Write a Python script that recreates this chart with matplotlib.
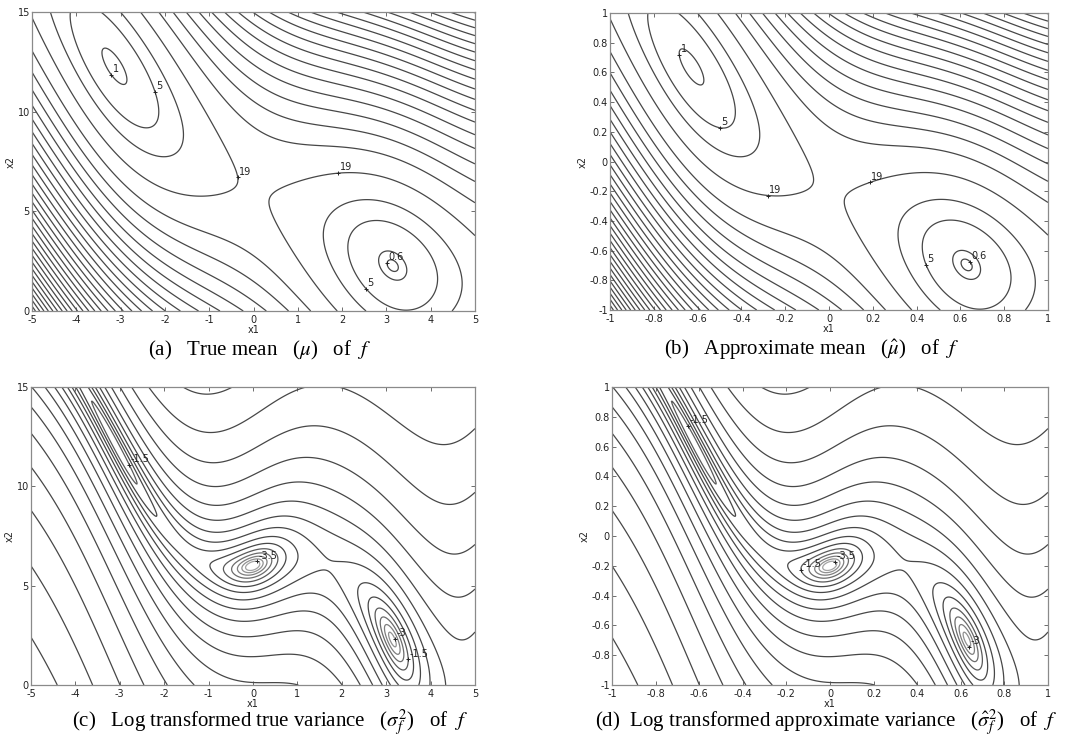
import numpy as np
import matplotlib.pyplot as plt

# Branin test function, inputs perturbed by gaussian noise
BRANIN_B = 5.1 / (4 * np.pi ** 2)
BRANIN_C = 5 / np.pi
BRANIN_R = 6.0
BRANIN_S = 10.0
BRANIN_T = 1 / (8 * np.pi)
NOISE_SD = 0.158
MEAN_NOISE_SD = 0.14

X1_RANGE = (-5, 5)
X2_RANGE = (0, 15)

# contour levels
MEAN_LEVELS = [0.6, 1, 5, 10, 19, 30, 40, 50, 60, 70, 80, 90, 100, 110, 120,
               130, 140, 150, 160, 170, 180, 190, 200, 210, 220, 230, 240,
               250, 260, 270, 280, 290, 300, 310]
VAR_LEVELS = [-3.5, -3, -2.5, -2, -1.5, -1, -0.5, 0, 0.5, 1, 1.5, 2, 2.5,
              3, 3.5, 4, 4.5, 5, 5.5, 6, 6.5]

# labelled contours: (level, approximate x1, x2 in original units)
MEAN_LABELS = [(1, -3.15, 11.85), (5, -2.2, 11.0), (19, -0.3, 6.7),
               (19, 1.9, 7.0), (0.6, 3.1, 2.4), (5, 2.5, 1.1)]
MEAN_LABELS_B = [(1, -3.35, 12.9), (5, -2.5, 9.2), (19, -1.4, 5.8),
                 (19, 0.95, 6.4), (5, 2.2, 2.3), (0.6, 3.3, 2.5)]
VAR_LABELS = [(-1.5, -2.8, 11.1), (-3.5, 0.15, 6.4), (-3, 3.15, 2.3),
              (-1.5, 3.45, 1.3)]
VAR_LABELS_D = [(-1.5, -3.15, 13.1), (-1.5, -0.7, 5.8), (-3.5, 0.1, 6.2),
                (-3, 3.15, 1.8)]

X1_TICKS_A = [-5, -4, -3, -2, -1, 0, 1, 2, 3, 4, 5]
X2_TICKS_A = [0, 5, 10, 15]
TICKS_B = [-1, -0.8, -0.6, -0.4, -0.2, 0, 0.2, 0.4, 0.6, 0.8, 1]

CAPTIONS = ['(a)   True mean   ($\\mu$)   of  $f$',
            '(b)   Approximate mean   ($\\hat{\\mu}$)   of  $f$',
            '(c)   Log transformed true variance   ($\\sigma_f^2$)   of  $f$',
            '(d)  Log transformed approximate variance   ($\\hat{\\sigma}_f^2$)   of  $f$']

LINE_COLOR = '#474747'


def branin_parts(x1, x2):
    g = x2 - BRANIN_B * x1 ** 2 + BRANIN_C * x1 - BRANIN_R
    dg = -2 * BRANIN_B * x1 + BRANIN_C
    amp = BRANIN_S * (1 - BRANIN_T)
    f = g ** 2 + amp * np.cos(x1) + BRANIN_S
    f1 = 2 * g * dg - amp * np.sin(x1)
    f2 = 2 * g
    f11 = 2 * dg ** 2 - 4 * BRANIN_B * g - amp * np.cos(x1)
    f12 = 2 * dg
    f22 = 2.0 * np.ones_like(x1)
    return f, f1, f2, f11, f12, f22


def to_unit(x1, x2):
    return x1 / 5.0, x2 / 7.5 - 1.0


def style_axes(ax, xticks, yticks):
    ax.set_xticks(xticks)
    ax.set_yticks(yticks)
    ax.set_xticklabels([('%g' % t) for t in xticks])
    ax.set_yticklabels([('%g' % t) for t in yticks])
    ax.tick_params(direction='in', top=True, right=True, labelsize=7,
                   length=3, width=0.6, colors='#555555', pad=1.5,
                   labelcolor='#222222')
    ax.tick_params(axis='x', pad=3)
    for sp in ax.spines.values():
        sp.set_color('#8a8a8a')
        sp.set_linewidth(0.9)
    ax.set_xlabel('x1', fontsize=7, labelpad=0, color='#222222')
    ax.set_ylabel('x2', fontsize=7, labelpad=1, color='#222222')


def put_labels(ax, cs, labels, unit):
    for level, px, py in labels:
        if unit:
            px, py = to_unit(px, py)
        idx = list(cs.levels).index(level)
        segs = [s for s in cs.allsegs[idx] if len(s)]
        if not segs:
            continue
        pts = np.vstack(segs)
        k = np.argmin((pts[:, 0] - px) ** 2 + (pts[:, 1] - py) ** 2)
        x, y = pts[k]
        ax.plot(x, y, '+', color='#222222', ms=3, mew=0.7)
        ax.annotate('%g' % level, (x, y), xytext=(1, 0.5),
                    textcoords='offset points', fontsize=7, ha='left',
                    va='bottom', color='#222222')


def main():
    x1 = np.linspace(X1_RANGE[0], X1_RANGE[1], 500)
    x2 = np.linspace(X2_RANGE[0], X2_RANGE[1], 500)
    X1, X2 = np.meshgrid(x1, x2)
    f, f1, f2, f11, f12, f22 = branin_parts(X1, X2)
    s2 = NOISE_SD ** 2
    mean = f + MEAN_NOISE_SD ** 2 / 2 * (f11 + f22)
    var = s2 * (f1 ** 2 + f2 ** 2) + s2 ** 2 / 2 * (f11 ** 2 + 2 * f12 ** 2 + f22 ** 2)
    logvar = np.log(var)
    U, V = to_unit(X1, X2)

    fig = plt.figure(figsize=(10.91, 7.46), dpi=100)
    W, H = 1091.0, 746.0
    boxes = [(32, 12, 443, 299), (610, 13, 438, 297),
             (31, 387, 444, 298), (612, 387, 436, 298)]
    axs = [fig.add_axes([l / W, 1 - (t + h) / H, w / W, h / H])
           for l, t, w, h in boxes]

    n = len(VAR_LEVELS)
    var_colors = [str(0.64 - 0.36 * min(i, 5) / 5) for i in range(n)]

    # (a) true mean
    cs = axs[0].contour(X1, X2, mean, levels=MEAN_LEVELS, colors=LINE_COLOR,
                        linewidths=0.9)
    put_labels(axs[0], cs, MEAN_LABELS, False)
    style_axes(axs[0], X1_TICKS_A, X2_TICKS_A)

    # (b) approximate mean
    cs = axs[1].contour(U, V, mean, levels=MEAN_LEVELS, colors=LINE_COLOR,
                        linewidths=0.9)
    put_labels(axs[1], cs, MEAN_LABELS_B, True)
    style_axes(axs[1], TICKS_B, TICKS_B)

    # (c) log true variance
    cs = axs[2].contour(X1, X2, logvar, levels=VAR_LEVELS, colors=var_colors,
                        linewidths=0.9)
    put_labels(axs[2], cs, VAR_LABELS, False)
    style_axes(axs[2], X1_TICKS_A, X2_TICKS_A)

    # (d) log approximate variance
    cs = axs[3].contour(U, V, logvar, levels=VAR_LEVELS, colors=var_colors,
                        linewidths=0.9)
    put_labels(axs[3], cs, VAR_LABELS_D, True)
    style_axes(axs[3], TICKS_B, TICKS_B)

    caption_pos = [(260, 350), (812, 350), (270, 723), (826, 723)]
    for (cx, cy), cap in zip(caption_pos, CAPTIONS):
        fig.text(cx / W, 1 - cy / H, cap, ha='center', va='center',
                 fontsize=15, family='Liberation Serif',
                 math_fontfamily='stix')

    fig.savefig('out.png', dpi=100, facecolor='white')


if __name__ == '__main__':
    main()
